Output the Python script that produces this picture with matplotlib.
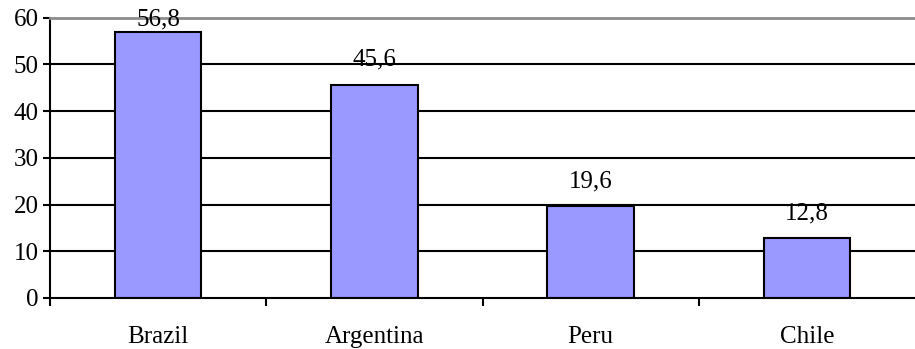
import matplotlib
matplotlib.use("Agg")
import matplotlib.pyplot as plt
import numpy as np

categories = ["Brazil", "Argentina", "Peru", "Chile"]
values = [56.8, 45.6, 19.6, 12.8]
value_labels = ["56,8", "45,6", "19,6", "12,8"]
y_ticks = [0, 10, 20, 30, 40, 50, 60]

plt.rcParams["font.family"] = ["Liberation Serif", "DejaVu Serif"]
FS = 18

W, H = 915, 349
fig = plt.figure(figsize=(W / 100, H / 100), dpi=100)
ax = fig.add_axes([50 / W, 1 - 298 / H, (W - 50) / W, (298 - 17.5) / H])

x = np.arange(len(categories))
ax.bar(x, values, width=0.4, color="#9999FF", edgecolor="black", linewidth=1.5, zorder=3)

ax.set_xlim(-0.5, len(categories) - 0.5)
ax.set_ylim(0, 60)

# horizontal gridlines (black), top line grey
for yv in y_ticks[1:-1]:
    ax.axhline(yv, color="black", linewidth=1.5, zorder=1)

ax.spines["right"].set_visible(False)
ax.spines["top"].set_color("#8c8c8c")
ax.spines["top"].set_linewidth(2)
ax.spines["left"].set_linewidth(1.5)
ax.spines["bottom"].set_linewidth(1.5)
ax.spines["bottom"].set_zorder(4)

ax.set_yticks(y_ticks)
ax.set_yticklabels([str(t) for t in y_ticks], fontsize=FS)
ax.tick_params(axis="y", direction="out", length=5, width=1.5, pad=3)

ax.set_xticks(x)
ax.set_xticklabels(categories, fontsize=FS)
ax.tick_params(axis="x", which="major", length=0, pad=20)
ax.set_xticks(np.arange(len(categories)) - 0.5, minor=True)
ax.tick_params(axis="x", which="minor", direction="out", length=6, width=1.5)

# value labels above bars, kept inside the plot area
for xi, v, lab in zip(x, values, value_labels):
    ly = min(v + 4.1, 58.2)
    ax.text(xi, ly, lab, ha="center", va="baseline", fontsize=FS, zorder=5)

fig.savefig("out.png", dpi=100)
